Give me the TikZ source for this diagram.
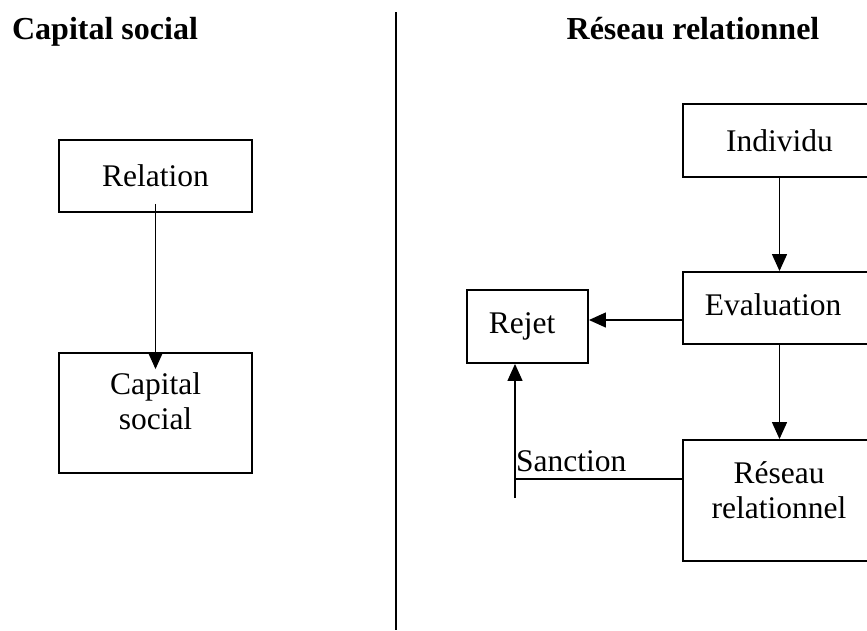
\documentclass[tikz,border=0pt]{standalone}
\usepackage{fontspec}
\setmainfont{Liberation Serif}
\usetikzlibrary{arrows.meta,calc}
\begin{document}
\begin{tikzpicture}[x=1pt,y=-1pt,
  box/.style={draw,line width=1.9pt,inner sep=0pt,font=\fontsize{31.5}{35}\selectfont},
  lbl/.style={font=\fontsize{31.5}{35}\selectfont,inner sep=0pt,align=center},
  title/.style={font=\fontsize{32}{36}\selectfont\bfseries,inner sep=0pt,anchor=base},
  link/.style={line width=1.4pt},
  arr/.style={link,-{Triangle[length=17pt,width=15pt]}}]
\useasboundingbox (0,0) rectangle (867,630);
\clip (0,0) rectangle (867,630);
\fill[white] (0,0) rectangle (867,630);

% headings and separator
\node[title] (t1) at (105,39) {Capital social};
\node[title] (t2) at (693,39) {Réseau relationnel};
\coordinate (divtop) at (396,12);
\coordinate (divbot) at (396,630);
\draw[link] (divtop) -- (divbot);

% left panel
\node[box,minimum width=193pt,minimum height=72pt] (rel) at (155.5,176) {Relation};
\node[box,minimum width=193pt,minimum height=120pt] (capbox) at (155.5,413) {};
\node[lbl] (captext) at (155.5,401) {Capital\\social};
\coordinate (relout) at ($(rel.south)+(0,-9)$);
\coordinate (capin) at ($(capbox.north)+(0,17)$);
\draw[arr] (relout) -- (capin);

% right panel
\node[box,minimum width=193pt,minimum height=73pt] (indiv) at (779.5,140.5) {Individu};
\node[box,minimum width=193pt,minimum height=72pt] (eval) at (779.5,308) {};
\node[lbl] (evaltext) at (773,305) {Evaluation};
\node[box,minimum width=193pt,minimum height=121pt] (resbox) at (779.5,500.5) {};
\node[lbl] (restext) at (779,490) {Réseau\\relationnel};
\node[box,minimum width=121pt,minimum height=73pt] (rejet) at (527.5,326.5) {};
\node[lbl] (rejettext) at (522,326) {Rejet};

\draw[arr] (indiv.south) -- (eval.north);
\draw[arr] (eval.south) -- (resbox.north);
\coordinate (evalout) at ($(eval.west)+(0,12)$);
\draw[arr] (evalout) -- (evalout -| rejet.east);

\coordinate (sanc) at (515,498);
\coordinate (resout) at ($(resbox.west)+(0,-21.5)$);
\draw[link] (resout) -- (resout -| sanc);
\draw[arr] (sanc) -- (sanc |- rejet.south);
\node[lbl,anchor=base west] (sanclbl) at (516,471) {Sanction};
\end{tikzpicture}
\end{document}
